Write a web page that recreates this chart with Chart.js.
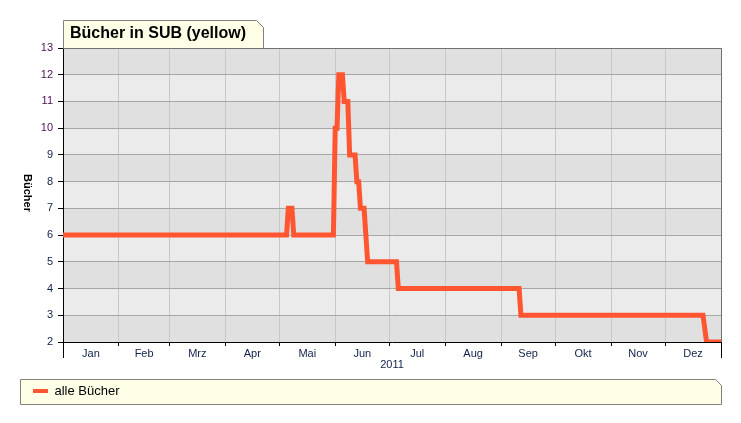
<!DOCTYPE html>
<html><head><meta charset="utf-8">
<script src="https://cdn.jsdelivr.net/npm/chart.js@4"></script>
<style>html,body{margin:0;padding:0;background:#fff;}#wrap{position:relative;width:741px;height:423px;}canvas{display:block;}</style>
</head><body><div id="wrap"><canvas id="c" width="741" height="423"></canvas></div>
<script>
// ---- data ----
const chartTitle = 'Bücher in SUB (yellow)';
const yAxisTitle = 'Bücher';
const xAxisTitle = '2011';
const seriesLabel = 'alle Bücher';
const monthLabels = ['Jan','Feb','Mrz','Apr','Mai','Jun','Jul','Aug','Sep','Okt','Nov','Dez'];
const changeDates = ['2011-01-01','2011-05-05','2011-05-06','2011-05-08','2011-05-09','2011-05-31','2011-06-01','2011-06-02','2011-06-03','2011-06-05','2011-06-06','2011-06-08','2011-06-09','2011-06-12','2011-06-13','2011-06-14','2011-06-15','2011-06-17','2011-06-19','2011-07-05','2011-07-06','2011-09-11','2011-09-12','2011-12-22','2011-12-24','2012-01-01'];
const bookCounts  = [6,6,7,7,6,6,10,10,12,12,11,11,9,9,8,8,7,7,5,5,4,4,3,3,2,2];
const yMin = 2, yMax = 13;

// ---- helpers ----
const FONT = "'Liberation Sans', Arial, sans-serif";
const LINE_COLOR = '#ff5530';
const dayOf = s => { const [y,m,d] = s.split('-').map(Number); return (Date.UTC(y,m-1,d) - Date.UTC(2011,0,1)) / 86400000; };
const monthStarts = [];
for (let i = 0; i <= 12; i++) monthStarts.push((Date.UTC(2011, i, 1) - Date.UTC(2011,0,1)) / 86400000);
const xTicks = [];
for (let i = 0; i < 12; i++) { xTicks.push({value: monthStarts[i], label: ''}); xTicks.push({value: (monthStarts[i] + monthStarts[i+1]) / 2, label: monthLabels[i]}); }
xTicks.push({value: monthStarts[12], label: ''});
const boundarySet = new Set(monthStarts);
const points = changeDates.map((d, i) => ({x: dayOf(d), y: bookCounts[i]}));

const decor = {
  id: 'decor',
  afterLayout(chart) { chart.titleBlock.left += 7; chart.titleBlock.right += 7; },
  beforeDraw(chart) {
    const {ctx, chartArea: ca, scales: {y}} = chart;
    ctx.save();
    // alternating bands
    for (let v = yMin; v < yMax; v++) {
      const t = y.getPixelForValue(v + 1), b = y.getPixelForValue(v);
      ctx.fillStyle = ((yMax - (v + 1)) % 2 === 0) ? '#e0e0e0' : '#ebebeb';
      ctx.fillRect(ca.left, t, ca.right - ca.left, b - t);
    }
    // title tab
    const tb = chart.titleBlock;
    ctx.font = 'bold 16px ' + FONT;
    const tw = ctx.measureText(chartTitle).width;
    const L = ca.left + 0.5, T = tb.top + 0.5, B = ca.top + 0.5, R = Math.round(ca.left + 7 + tw + 17) + 0.5, e = 7;
    ctx.beginPath();
    ctx.moveTo(L, B); ctx.lineTo(L, T); ctx.lineTo(R - e, T); ctx.lineTo(R, T + e); ctx.lineTo(R, B);
    ctx.fillStyle = '#ffffe8'; ctx.fill();
    ctx.strokeStyle = '#808080'; ctx.lineWidth = 1; ctx.stroke();
    // legend box
    const lg = chart.legend;
    const cy = lg.top + 13 + 6.5;
    const lL = 20.5, lR = 721.5, lT = Math.round(cy - 12.5) + 0.5, lB = Math.round(cy + 12.5) + 0.5, le = 6;
    ctx.beginPath();
    ctx.moveTo(lL, lT); ctx.lineTo(lR - le, lT); ctx.lineTo(lR, lT + le); ctx.lineTo(lR, lB); ctx.lineTo(lL, lB); ctx.closePath();
    ctx.fillStyle = '#ffffe8'; ctx.fill();
    ctx.strokeStyle = '#808080'; ctx.stroke();
    ctx.restore();
  },
  afterDraw(chart) {
    const {ctx, chartArea: ca, scales: {x}} = chart;
    ctx.save();
    // plot border top/right
    ctx.strokeStyle = '#707070'; ctx.lineWidth = 1;
    ctx.beginPath();
    ctx.moveTo(ca.left, ca.top + 0.5); ctx.lineTo(ca.right + 0.5, ca.top + 0.5); ctx.lineTo(ca.right + 0.5, ca.bottom);
    ctx.stroke();
    // extended end ticks
    ctx.strokeStyle = '#000';
    ctx.beginPath();
    [x.getPixelForValue(monthStarts[0]), x.getPixelForValue(monthStarts[12])].forEach(px => {
      const p = Math.round(px - 0.5) + 0.5;
      ctx.moveTo(p, ca.bottom); ctx.lineTo(p, ca.bottom + 16);
    });
    ctx.stroke();
    // y axis title (rotated clockwise)
    ctx.translate(27, (ca.top + ca.bottom) / 2 - 2);
    ctx.rotate(Math.PI / 2);
    ctx.font = 'bold 11px ' + FONT;
    ctx.fillStyle = '#000';
    ctx.textAlign = 'center'; ctx.textBaseline = 'middle';
    ctx.fillText(yAxisTitle, 0, 0);
    ctx.restore();
  }
};

new Chart(document.getElementById('c'), {
  type: 'line',
  data: {
    datasets: [{
      label: seriesLabel,
      data: points,
      borderColor: LINE_COLOR,
      backgroundColor: LINE_COLOR,
      borderWidth: 5,
      pointRadius: 0,
      tension: 0,
      borderJoinStyle: 'miter',
      clip: 0
    }]
  },
  options: {
    responsive: false,
    animation: false,
    layout: {padding: {left: 20, right: 20, top: 20, bottom: 15.5}},
    plugins: {
      tooltip: {enabled: false},
      title: {
        display: true, text: chartTitle, align: 'start', fullSize: false,
        padding: {top: 4, bottom: 4.8},
        font: {family: FONT, size: 16, weight: 'bold'}, color: '#000'
      },
      legend: {
        position: 'bottom', align: 'start',
        labels: {
          usePointStyle: true, pointStyle: 'line', pointStyleWidth: 15, padding: 13,
          font: {family: FONT, size: 13}, color: '#000',
          generateLabels(chart) {
            const items = Chart.defaults.plugins.legend.labels.generateLabels(chart);
            items.forEach(it => { it.lineWidth = 4; it.pointStyle = 'line'; it.strokeStyle = LINE_COLOR; });
            return items;
          }
        }
      }
    },
    scales: {
      x: {
        type: 'linear', min: monthStarts[0], max: monthStarts[12],
        afterBuildTicks(scale) { scale.ticks = xTicks.map(t => ({value: t.value})); },
        afterFit(scale) { scale.height = 29.5; },
        ticks: {
          autoSkip: false, maxRotation: 0, minRotation: 0, padding: 1,
          color: '#10204a', font: {family: FONT, size: 11},
          callback: (v, i) => xTicks[i] ? xTicks[i].label : ''
        },
        grid: {
          color: c => (c.tick && boundarySet.has(c.tick.value)) ? '#c8c8c8' : 'rgba(0,0,0,0)',
          tickColor: c => (c.tick && boundarySet.has(c.tick.value)) ? '#000' : 'rgba(0,0,0,0)',
          tickLength: 4, drawTicks: true
        },
        border: {color: '#000', width: 1},
        title: {display: true, text: xAxisTitle, color: '#10204a', font: {family: FONT, size: 11}, padding: {top: 0, bottom: 0}}
      },
      y: {
        min: yMin, max: yMax,
        afterFit(scale) { scale.width = 43; },
        ticks: {
          stepSize: 1, padding: 5,
          color: c => c.tick.value >= 10 ? '#4a1050' : '#10204a',
          font: {family: FONT, size: 11}
        },
        grid: {
          color: c => (c.tick && c.tick.value === yMax) ? '#707070' : '#a6a6a6',
          tickColor: '#000', tickLength: 5
        },
        border: {color: '#000', width: 1}
      }
    }
  },
  plugins: [decor]
});
</script>
</body></html>
